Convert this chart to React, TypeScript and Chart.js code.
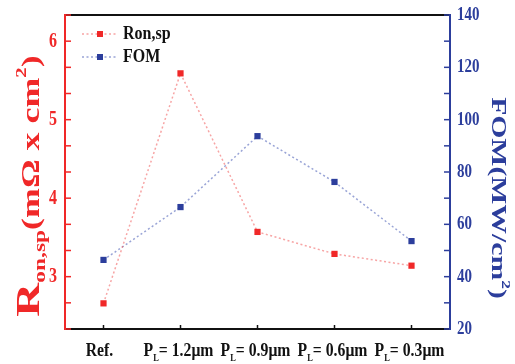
import React, { useEffect, useRef } from "react";
import { Chart, registerables } from "chart.js";

Chart.register(...registerables);

// ---- data ----
const categories = ["Ref.", "P_L= 1.2μm", "P_L= 0.9μm", "P_L= 0.6μm", "P_L= 0.3μm"];
const ronValues = [2.66, 5.59, 3.57, 3.29, 3.14];
const fomValues = [46.4, 66.6, 93.7, 76.2, 53.6];
const leftTickLabels = [3, 4, 5, 6];
const rightTickLabels = [20, 40, 60, 80, 100, 120, 140];
const seriesNames = ["Ron,sp", "FOM"];

const RED = "#f02828";
const BLUE = "#2c3e9c";
const SERIF = "'Liberation Serif', 'DejaVu Serif', serif";

type Part = { t: string; size: number; dy: number };

function drawParts(
  ctx: CanvasRenderingContext2D,
  parts: Part[],
  x: number,
  y: number,
  align: "left" | "center",
  sx = 1,
  sy = 1
) {
  ctx.save();
  ctx.translate(x, y);
  ctx.scale(sx, sy);
  let total = 0;
  for (const p of parts) {
    ctx.font = `bold ${p.size}px ${SERIF}`;
    total += ctx.measureText(p.t).width;
  }
  let cx = align === "center" ? -total / 2 : 0;
  ctx.textAlign = "left";
  ctx.textBaseline = "alphabetic";
  for (const p of parts) {
    ctx.font = `bold ${p.size}px ${SERIF}`;
    ctx.fillText(p.t, cx, p.dy);
    cx += ctx.measureText(p.t).width;
  }
  ctx.restore();
}

function drawStretched(ctx: CanvasRenderingContext2D, text: string, x: number, y: number, size: number, align: CanvasTextAlign, sy: number) {
  ctx.save();
  ctx.translate(x, y);
  ctx.scale(1, sy);
  ctx.font = `bold ${size}px ${SERIF}`;
  ctx.textAlign = align;
  ctx.textBaseline = "middle";
  ctx.fillText(text, 0, 0);
  ctx.restore();
}

const decorPlugin = {
  id: "decor",
  afterDraw(chart: any) {
    const { ctx, chartArea, scales } = chart;
    const { left, right, top, bottom } = chartArea;
    const xs = scales.x, yl = scales.y, yr = scales.y1;
    ctx.save();
    const line = (x1: number, y1: number, x2: number, y2: number) => {
      ctx.beginPath(); ctx.moveTo(x1, y1); ctx.lineTo(x2, y2); ctx.stroke();
    };
    // frame
    ctx.lineWidth = 2;
    ctx.strokeStyle = "#111";
    line(left, top, right, top);
    line(left, bottom, right, bottom);
    ctx.strokeStyle = RED;
    line(left, top - 1, left, bottom + 1);
    ctx.strokeStyle = BLUE;
    line(right, top - 1, right, bottom + 1);

    // left ticks (every 1/3)
    ctx.lineWidth = 1.5;
    ctx.strokeStyle = RED;
    for (let k = 7; k <= 19; k++) {
      const y = yl.getPixelForValue(k / 3);
      line(left, y, left + 6, y);
    }
    // right ticks every 10
    ctx.strokeStyle = BLUE;
    for (let v = 20; v <= 140; v += 10) {
      const y = yr.getPixelForValue(v);
      line(right - 6, y, right, y);
    }
    // x ticks
    ctx.strokeStyle = "#111";
    categories.forEach((_, i) => {
      const x = xs.getPixelForValue(i);
      line(x, bottom, x, bottom - 4);
    });

    // left tick labels
    ctx.fillStyle = RED;
    leftTickLabels.forEach((v) => drawStretched(ctx, String(v), left - 8, yl.getPixelForValue(v), 16, "right", 1.3));
    // right tick labels
    ctx.fillStyle = BLUE;
    rightTickLabels.forEach((v) => drawStretched(ctx, String(v), right + 7, yr.getPixelForValue(v), 15, "left", 1.3));

    // x labels
    ctx.fillStyle = "#111";
    categories.forEach((lab, i) => {
      const x = xs.getPixelForValue(i) - 2;
      const y = 356;
      if (lab.includes("_L")) {
        const [a, b] = lab.split("_L");
        drawParts(ctx, [
          { t: a, size: 15, dy: 0 },
          { t: "L", size: 8, dy: 4 },
          { t: b, size: 15, dy: 0 },
        ], x, y, "center", 1.05, 1.3);
      } else {
        drawParts(ctx, [{ t: lab, size: 15, dy: 0 }], x - 2, y, "center", 1.05, 1.3);
      }
    });

    // left title (rotated)
    ctx.save();
    ctx.translate(39, 186);
    ctx.rotate(-Math.PI / 2);
    ctx.fillStyle = RED;
    drawParts(ctx, [
      { t: "R", size: 34, dy: 0 },
      { t: "on,sp", size: 17, dy: 6 },
      { t: "(mΩ x cm", size: 26, dy: 0 },
      { t: "2", size: 15, dy: -13 },
      { t: ")", size: 26, dy: 0 },
    ], 0, 0, "center", 1.38, 1);
    ctx.restore();

    // right title (rotated clockwise)
    ctx.save();
    ctx.translate(492, 198);
    ctx.rotate(Math.PI / 2);
    ctx.fillStyle = BLUE;
    drawParts(ctx, [
      { t: "FOM(MW/cm", size: 22, dy: 0 },
      { t: "2", size: 13, dy: -10 },
      { t: ")", size: 22, dy: 0 },
    ], 0, 0, "center", 1.35, 1);
    ctx.restore();

    // legend
    const items = [
      { name: seriesNames[0], color: RED, lc: "rgba(240,90,90,0.55)", y: 34 },
      { name: seriesNames[1], color: BLUE, lc: "rgba(70,90,180,0.55)", y: 57 },
    ];
    items.forEach((it) => {
      ctx.strokeStyle = it.lc;
      ctx.lineWidth = 1.5;
      ctx.setLineDash([2, 2.5]);
      line(82, it.y, 118, it.y);
      ctx.setLineDash([]);
      ctx.fillStyle = it.color;
      ctx.fillRect(97, it.y - 3, 6, 6);
      ctx.fillStyle = "#111";
      drawStretched(ctx, it.name, 123, it.y, 16, "left", 1.2);
    });
    ctx.restore();
  },
};

export default function App() {
  const ref = useRef<HTMLCanvasElement | null>(null);
  useEffect(() => {
    if (!ref.current) return;
    const chart = new Chart(ref.current, {
      type: "line",
      data: {
        datasets: [
          {
            label: seriesNames[0],
            data: ronValues.map((v, i) => ({ x: i, y: v })),
            yAxisID: "y",
            borderColor: "rgba(240,90,90,0.55)",
            backgroundColor: RED,
            pointBackgroundColor: RED,
            pointBorderColor: RED,
            pointBorderWidth: 0,
            borderDash: [2, 2.5],
            borderWidth: 1.5,
            pointStyle: "rect",
            pointRadius: 4.4,
            tension: 0,
          },
          {
            label: seriesNames[1],
            data: fomValues.map((v, i) => ({ x: i, y: v })),
            yAxisID: "y1",
            borderColor: "rgba(70,90,180,0.55)",
            backgroundColor: BLUE,
            pointBackgroundColor: BLUE,
            pointBorderColor: BLUE,
            pointBorderWidth: 0,
            borderDash: [2, 2.5],
            borderWidth: 1.5,
            pointStyle: "rect",
            pointRadius: 4.4,
            tension: 0,
          },
        ],
      },
      options: {
        responsive: false,
        animation: false,
        layout: { padding: { top: 15, bottom: 35, left: 0, right: 0 } },
        plugins: { legend: { display: false }, tooltip: { enabled: false } },
        scales: {
          x: {
            type: "linear",
            min: -0.5,
            max: 4.5,
            grid: { display: false },
            border: { display: false },
            ticks: { display: false },
            afterFit: (s: any) => { s.height = 0; },
          },
          y: {
            position: "left",
            min: 7 / 3,
            max: 19 / 3,
            grid: { display: false },
            border: { display: false },
            ticks: { display: false },
            afterFit: (s: any) => { s.width = 65; },
          },
          y1: {
            position: "right",
            min: 20,
            max: 140,
            grid: { display: false },
            border: { display: false },
            ticks: { display: false },
            afterFit: (s: any) => { s.width = 65; },
          },
        },
      },
      plugins: [decorPlugin],
    });
    return () => chart.destroy();
  }, []);
  return (
    <div style={{ position: "absolute", left: 0, top: 0, width: 515, height: 364, background: "#fff" }}>
      <canvas ref={ref} width={515} height={364} />
    </div>
  );
}
